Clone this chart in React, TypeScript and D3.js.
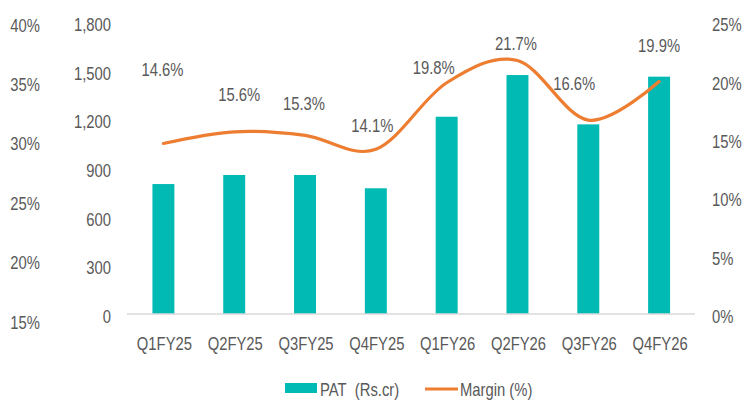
import React from "react";
import * as d3 from "d3";

const categories = ["Q1FY25", "Q2FY25", "Q3FY25", "Q4FY25", "Q1FY26", "Q2FY26", "Q3FY26", "Q4FY26"];
const patValues = [801, 857, 857, 775, 1216, 1473, 1169, 1463];
const marginValues = [14.6, 15.6, 15.3, 14.1, 19.8, 21.7, 16.6, 19.9];
const leftTicks = [0, 300, 600, 900, 1200, 1500, 1800];
const rightTicks = [0, 5, 10, 15, 20, 25];
const outerTicks = [15, 20, 25, 30, 35, 40];

// label placement offsets (layout, px) relative to each line point
const labelDx = [-1, 5, -1, -3.5, -13, -1.5, -14, 0];
const labelDy = [-74, -37.5, -31.5, -23.5, -15, -17.5, -36.5, -36.5];

const W = 755;
const H = 401;
const TEXT = "#595959";
const TEAL = "#00BAB3";
const ORANGE = "#ED7D31";
const FONT = "'Liberation Sans', Arial, sans-serif";
const FS = 18.5;
const SX = 0.8;

function T({ x, y, anchor, children }: { x: number; y: number; anchor: string; children: React.ReactNode }) {
  return (
    <text
      transform={`translate(${x},${y}) scale(${SX},1)`}
      textAnchor={anchor}
      fontFamily={FONT}
      fontSize={FS}
      fill={TEXT}
    >
      {children}
    </text>
  );
}

export default function App() {
  const x = d3.scaleBand<string>().domain(categories).range([128, 694.5]).paddingInner(0.69).paddingOuter(0.345);
  const yL = d3.scaleLinear().domain([0, 1800]).range([314, 22]);
  const yR = d3.scaleLinear().domain([0, 25]).range([314, 22]);
  const yO = d3.scaleLinear().domain([15, 40]).range([319.5, 22.5]);
  const cx = (c: string) => (x(c) as number) + x.bandwidth() / 2;

  const line = d3
    .line<number>()
    .x((_, i) => cx(categories[i]))
    .y((d) => yR(d))
    .curve(d3.curveCatmullRom.alpha(0));

  const vOff = FS * 0.358 + 2.5;
  const fmt = d3.format(",");

  return (
    <svg width={W} height={H} style={{ position: "absolute", left: 0, top: 0 }}>
      <rect width={W} height={H} fill="#fff" />
      {outerTicks.map((t) => (
        <T key={"o" + t} x={40} y={yO(t) + vOff} anchor="end">{t}%</T>
      ))}
      {leftTicks.map((t) => (
        <T key={"l" + t} x={111} y={yL(t) + vOff} anchor="end">{fmt(t)}</T>
      ))}
      {rightTicks.map((t) => (
        <T key={"r" + t} x={712} y={yR(t) + vOff} anchor="start">{t}%</T>
      ))}
      {patValues.map((v, i) => (
        <rect
          key={"b" + i}
          x={x(categories[i])}
          y={yL(v)}
          width={x.bandwidth()}
          height={yL(0) - yL(v)}
          fill={TEAL}
        />
      ))}
      <line x1={127} x2={695} y1={yL(0)} y2={yL(0)} stroke="#D9D9D9" strokeWidth={1.3} />
      {categories.map((c) => (
        <T key={"c" + c} x={cx(c) + 1} y={343 + FS * 0.358} anchor="middle">{c}</T>
      ))}
      <path d={line(marginValues) || ""} fill="none" stroke={ORANGE} strokeWidth={3.2} strokeLinecap="round" />
      {marginValues.map((v, i) => (
        <T key={"m" + i} x={cx(categories[i]) + labelDx[i]} y={yR(v) + labelDy[i] + FS * 0.358} anchor="middle">
          {v.toFixed(1)}%
        </T>
      ))}
      <rect x={285} y={383} width={32} height={10} fill={TEAL} />
      <T x={320} y={389 + FS * 0.358} anchor="start">{"PAT\u00a0\u00a0(Rs.cr)"}</T>
      <line x1={425} x2={458} y1={389} y2={389} stroke={ORANGE} strokeWidth={3.2} />
      <T x={460} y={389 + FS * 0.358} anchor="start">Margin (%)</T>
    </svg>
  );
}
